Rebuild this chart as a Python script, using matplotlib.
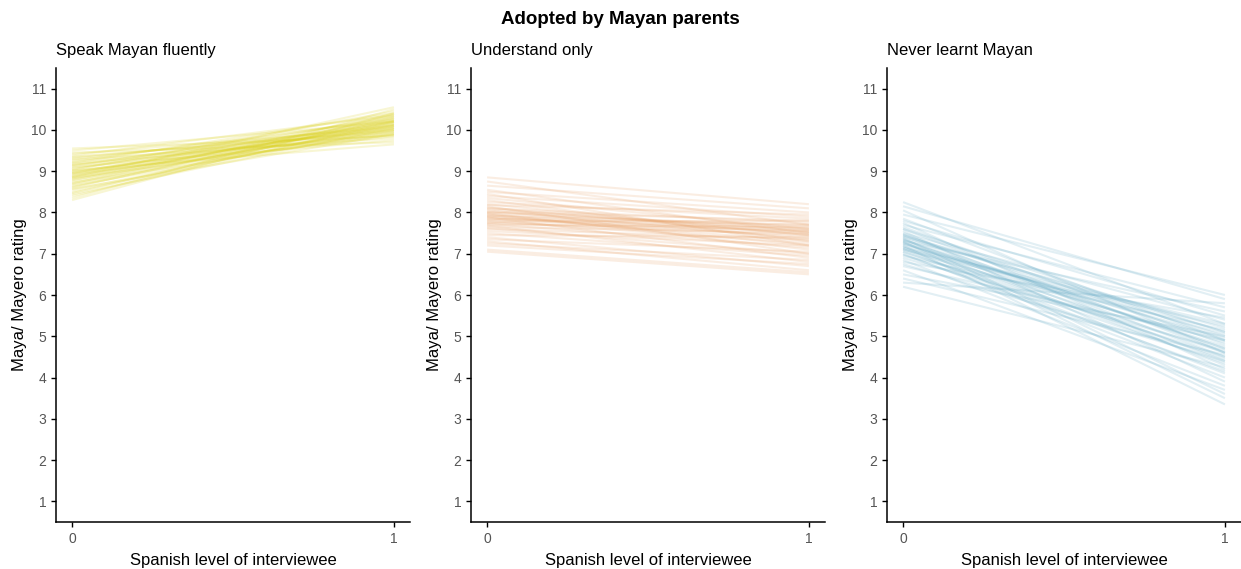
import numpy as np
import matplotlib.pyplot as plt

plt.rcParams['font.family'] = ['Liberation Sans', 'DejaVu Sans']

# Posterior lines: value at Spanish level 0 and at Spanish level 1
fluent_start = [9.55, 9.5, 9.45, 9.42, 9.38, 9.35, 9.3, 9.28, 9.25, 9.22, 9.2, 9.18, 9.15, 9.12, 9.1,
                9.08, 9.05, 9.03, 9.0, 8.98, 8.96, 8.94, 8.92, 8.9, 8.88, 8.86, 8.84, 8.82, 8.8, 8.78,
                8.75, 8.72, 8.7, 8.68, 8.65, 8.62, 8.6, 8.57, 8.55, 8.5, 8.47, 8.44, 8.4, 8.35, 8.3,
                9.02, 8.95, 9.15, 8.85, 9.33]
fluent_end = [9.85, 10.2, 9.7, 10.05, 10.35, 9.95, 10.1, 9.8, 10.25, 10.0, 10.4, 9.9, 10.15, 10.3, 9.75,
              10.05, 10.2, 10.45, 9.95, 10.1, 10.25, 9.85, 10.35, 10.0, 10.15, 10.55, 9.9, 10.2, 10.05, 10.3,
              10.1, 9.95, 10.4, 10.2, 10.0, 10.25, 10.35, 9.9, 10.1, 10.15, 10.3, 10.05, 10.2, 10.5, 10.4,
              9.65, 10.12, 9.88, 10.22, 10.0]

understand_start = [8.85, 8.75, 8.65, 8.55, 8.5, 8.45, 8.4, 8.35, 8.3, 8.25, 8.2, 8.18, 8.15, 8.1, 8.08,
                    8.05, 8.02, 8.0, 7.98, 7.95, 7.92, 7.9, 7.88, 7.85, 7.82, 7.8, 7.78, 7.75, 7.72, 7.7,
                    7.68, 7.65, 7.6, 7.55, 7.5, 7.45, 7.4, 7.35, 7.3, 7.25, 7.2, 7.1, 7.05, 8.0, 7.9,
                    7.85, 8.12, 7.75, 7.95, 7.62]
understand_end = [8.2, 7.7, 8.1, 7.5, 8.0, 7.2, 7.9, 7.6, 7.3, 7.85, 7.45, 7.95, 7.0, 7.75, 7.55,
                  7.35, 7.8, 7.65, 7.1, 7.5, 7.7, 7.4, 6.9, 7.6, 7.55, 7.25, 7.8, 7.45, 7.15, 7.65,
                  6.8, 7.5, 7.35, 7.2, 6.95, 7.4, 6.7, 7.05, 6.6, 6.85, 6.75, 6.55, 6.5, 7.6, 7.3,
                  7.7, 7.45, 7.55, 7.2, 7.0]

never_start = [8.25, 8.15, 8.05, 7.95, 7.85, 7.8, 7.75, 7.7, 7.65, 7.6, 7.55, 7.5, 7.48, 7.45, 7.42,
               7.4, 7.38, 7.35, 7.32, 7.3, 7.28, 7.25, 7.22, 7.2, 7.18, 7.15, 7.12, 7.1, 7.05, 7.0,
               6.95, 6.9, 6.85, 6.8, 6.75, 6.7, 6.6, 6.5, 6.4, 6.3, 6.2, 7.35, 7.25, 7.15, 7.45,
               7.05, 6.98, 7.6, 7.3, 7.1]
never_end = [5.3, 5.9, 4.6, 6.0, 4.9, 5.5, 4.2, 5.7, 4.8, 5.1, 3.9, 5.4, 4.5, 5.0, 4.7,
             5.2, 3.6, 4.4, 5.6, 4.9, 4.3, 4.75, 5.05, 3.35, 4.6, 5.3, 4.1, 4.85, 4.5, 4.0,
             5.15, 4.65, 3.8, 5.45, 4.4, 4.9, 3.7, 5.0, 4.55, 5.8, 4.25, 4.7, 4.95, 4.45, 5.1,
             4.35, 4.15, 4.6, 3.5, 5.25]

panel_titles = ["Speak Mayan fluently", "Understand only", "Never learnt Mayan"]
panel_colors = ["#DCD21E", "#E9A268", "#65ABC6"]
panel_data = [(fluent_start, fluent_end), (understand_start, understand_end), (never_start, never_end)]

fig = plt.figure(figsize=(12.41, 5.69), dpi=100)
lefts = [56, 471, 887]
W, H = 1241, 569
for k in range(3):
    ax = fig.add_axes([lefts[k] / W, 1 - 522 / H, 354 / W, (522 - 68) / H])
    starts, ends = panel_data[k]
    for s, e in zip(starts, ends):
        ax.plot([0, 1], [s, e], color=panel_colors[k], alpha=0.19, lw=1.5, solid_capstyle='butt')
    ax.set_xlim(-0.05, 1.05)
    ax.set_ylim(0.5, 11.5)
    ax.set_xticks([0, 1])
    ax.set_yticks(range(1, 12))
    for sp in ['top', 'right']:
        ax.spines[sp].set_visible(False)
    for sp in ['left', 'bottom']:
        ax.spines[sp].set_linewidth(1.1)
        ax.spines[sp].set_color('black')
    ax.tick_params(length=3.5, width=1, colors='black', labelcolor='#555555', labelsize=10)
    ax.set_xlabel("Spanish level of interviewee", fontsize=12, labelpad=5)
    ax.set_ylabel("Maya/ Mayero rating", fontsize=12, labelpad=3)
    ax.text(0, 1.022, panel_titles[k], transform=ax.transAxes, fontsize=12, ha='left', va='bottom')

fig.text(0.5, 1 - 20 / H, "Adopted by Mayan parents", fontsize=13.5, fontweight='bold', ha='center', va='center')

fig.savefig("out.png", dpi=100)
